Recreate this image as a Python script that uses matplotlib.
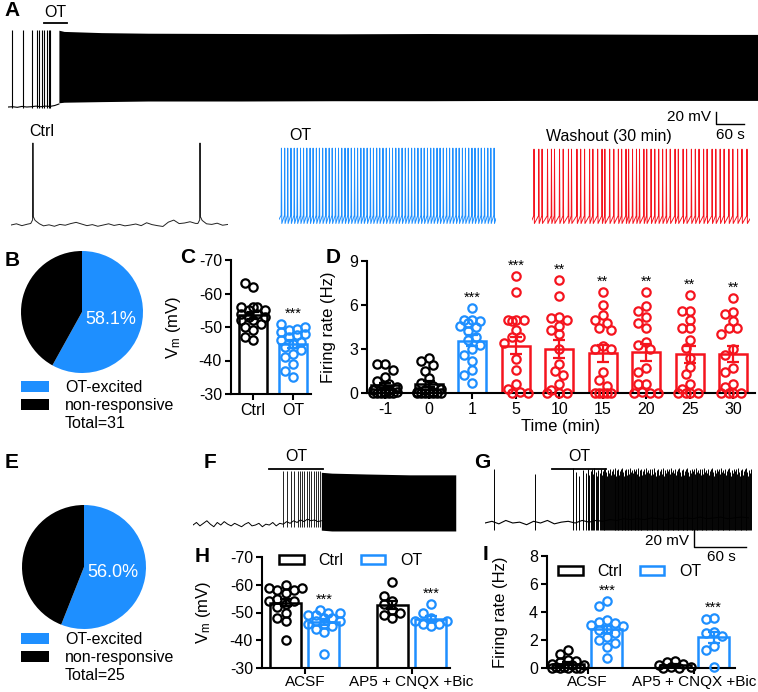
import numpy as np
import matplotlib.pyplot as plt
from matplotlib.patches import Patch

plt.rcParams['font.family'] = ['Liberation Sans', 'DejaVu Sans']
plt.rcParams['mathtext.fontset'] = 'custom'
plt.rcParams['mathtext.rm'] = 'Liberation Sans'
plt.rcParams['mathtext.it'] = 'Liberation Sans:italic'
plt.rcParams['axes.unicode_minus'] = False
plt.rcParams['axes.facecolor'] = 'none'

BLUE = '#1e8fff'
RED = '#f5141e'

# ---------------- data ----------------
# A: whole recording (time in s, Vm in mV)
a_pre_t = [0, 10, 20, 30, 40, 50, 60, 70, 80, 90, 100, 109]
a_pre_v = [-60, -59.5, -60.5, -59, -60, -59.5, -58.5, -59.5, -58.5, -59, -57.5, -55]
a_pre_spikes = [8.6, 32, 51, 62, 66, 73, 77, 84, 88, 90]
a_spike_peak = 68
a_block_t = [109, 120, 200, 300, 500, 700, 900, 1100, 1300, 1500, 1606]
a_block_top = [68, 66, 64, 63, 62.5, 62, 62.5, 62, 61.5, 61, 61]
a_block_bot = [-53, -52, -51, -50, -50, -49.5, -49.5, -49, -49, -49, -49]
a_ot = [77, 126]

# A, expanded 10 s segments
ctrl_v = [-60.0, -58.8, -60.6, -59.2, -58.0, -59.2, -60.8, -59.8, -61.2, -59.4, -60.2,
          -58.6, -57.4, -59.0, -60.6, -59.6, -61.2, -60.0, -58.8, -60.4, -59.4, -60.8,
          -60.0, -59.0, -60.6, -57.8, -59.6, -60.6, -61.4, -57.2, -55.2, -58.6, -58.0,
          -56.8, -58.4, -56.0, -57.2, -59.4, -58.2, -60.2, -59.4]
ctrl_spikes = [1.01, 8.71]
ot_spikes = [0.10, 0.25, 0.39, 0.54, 0.69, 0.83, 0.98, 1.12, 1.27, 1.42, 1.56, 1.71,
             1.85, 2.00, 2.15, 2.30, 2.44, 2.59, 2.73, 2.88, 3.03, 3.17, 3.32, 3.47,
             3.61, 3.76, 3.90, 4.05, 4.20, 4.34, 4.49, 4.63, 4.78, 4.93, 5.08, 5.22,
             5.37, 5.51, 5.66, 5.81, 5.95, 6.10, 6.24, 6.39, 6.54, 6.68, 6.83, 6.98,
             7.12, 7.27, 7.41, 7.56, 7.71, 7.85, 8.00, 8.15, 8.29, 8.44, 8.58, 8.73,
             8.88, 9.02, 9.17, 9.31, 9.46, 9.61, 9.75, 9.90]
wash_spikes = [0.08, 0.30, 0.45, 0.70, 0.88, 1.02, 1.25, 1.42, 1.66, 1.80, 2.05, 2.22,
               2.40, 2.63, 2.78, 3.00, 3.20, 3.33, 3.55, 3.74, 3.95, 4.10, 4.30, 4.42,
               4.60, 4.78, 4.92, 5.12, 5.25, 5.45, 5.62, 5.80, 5.98, 6.15, 6.33, 6.55,
               6.70, 6.92, 7.08, 7.30, 7.48, 7.65, 7.86, 8.02, 8.25, 8.42, 8.62, 8.80,
               9.02, 9.20, 9.42, 9.62, 9.85]

# B / E: cell counts (OT-excited, non-responsive)
b_counts = [18, 13]
e_counts = [14, 11]
pie_labels = ['OT-excited', 'non-responsive']

# C: Vm (mV)
c_ctrl = [-63, -62, -56, -56, -56, -55, -55, -54, -54, -53, -53, -52, -52, -51, -50, -49, -47, -46]
c_ot = [-51, -50, -49.5, -49, -48.5, -48, -47.5, -47, -46, -45.5, -45, -44, -43, -42, -41, -39, -37, -35]

# D: firing rate (Hz) over time
d_labels = ['-1', '0', '1', '5', '10', '15', '20', '25', '30']
d_m1 = [2.0, 2.0, 1.6, 1.1, 0.8, 0.6, 0.4, 0.3, 0.2, 0.2, 0.1, 0.1, 0, 0, 0, 0, 0, 0]
d_0 = [2.4, 2.2, 1.9, 1.5, 1.0, 0.7, 0.5, 0.3, 0.2, 0.1, 0.1, 0, 0, 0, 0, 0, 0, 0]
d_1 = [5.8, 5.0, 5.0, 4.9, 4.8, 4.6, 4.5, 4.2, 3.8, 3.6, 3.3, 3.0, 2.6, 2.2, 1.6, 1.2, 0.7]
d_5 = [8.0, 6.9, 5.0, 5.0, 5.0, 4.9, 4.3, 3.8, 3.8, 3.4, 2.3, 1.6, 0.6, 0.3, 0.1, 0, 0]
d_10 = [7.7, 6.6, 5.2, 5.1, 5.0, 4.6, 4.3, 4.0, 3.0, 2.0, 1.5, 1.2, 0.6, 0.2, 0, 0, 0]
d_15 = [6.9, 6.0, 5.3, 5.0, 4.8, 4.4, 4.3, 3.2, 3.0, 3.0, 1.4, 0.9, 0.5, 0, 0, 0, 0, 0]
d_20 = [6.9, 5.9, 5.6, 5.2, 4.8, 4.4, 3.5, 3.3, 3.0, 1.7, 1.4, 0.6, 0.6, 0.1, 0, 0, 0]
d_25 = [6.7, 5.6, 5.6, 5.0, 4.4, 4.4, 3.6, 3.1, 2.4, 1.8, 1.3, 0.6, 0.3, 0, 0, 0, 0]
d_30 = [6.5, 5.5, 5.4, 4.9, 4.4, 4.4, 4.0, 3.0, 2.6, 1.7, 1.4, 0.6, 0.4, 0, 0, 0, 0]
d_stars = ['', '', '***', '***', '**', '**', '**', '**', '**']

# F: trace (time s, Vm mV)
f_base_v = [-60, -57, -61, -58, -55, -59, -62, -57, -60, -56, -59, -61, -58, -60, -62, -59,
            -57, -61, -60, -58, -62, -59, -60, -57, -61, -58, -59, -56, -58, -55, -57, -54,
            -56, -53, -55, -54, -56, -55]
f_spikes = [104, 108, 113, 117, 121, 123, 126, 128, 131, 134, 136, 139, 142, 144, 146]
f_block_t = [148, 160, 200, 250, 303]
f_block_top = [2, 1, 0, -1, -1]
f_block_bot = [-66, -67, -67, -67, -67]
f_ot = [88, 150]

# G: trace
g_base_v = [-60, -58, -61, -57, -60, -59, -62, -58, -60, -57, -61, -59, -58, -60, -57, -59,
            -57, -58, -56, -57, -55, -56, -55, -56, -54, -55, -56, -54, -55, -54, -55, -53,
            -55, -54, -53, -55, -54, -53, -54]
g_early_spikes = [10, 58]
g_bin_edges = [100, 118, 133, 150, 180, 215, 255, 308]
g_bin_counts = [5, 10, 16, 34, 36, 42, 54]
g_peaks = [3, -2, 5, 0, -5, 2, -1, 4, -3, 1]
g_ot = [77, 140]

# H: Vm (mV), I: firing rate (Hz)
hi_groups = ['ACSF', 'AP5 + CNQX +Bic']
h_ctrl = [[-60, -59, -59, -58, -58, -57, -55, -54, -54, -53, -52, -50, -48, -47, -40],
          [-61, -56, -54, -53, -51, -50, -49, -48]]
h_ot = [[-51, -50, -50, -49, -49, -48, -48, -47, -47, -46, -46, -45, -44, -43, -35],
        [-53, -50, -48, -47, -47, -46, -46, -45]]
i_ctrl = [[1.3, 1.0, 0.6, 0.5, 0.4, 0.3, 0.2, 0.2, 0.1, 0.1, 0, 0, 0, 0, 0],
          [0.5, 0.4, 0.3, 0.2, 0.1, 0.1, 0, 0]]
i_ot = [[4.8, 4.4, 3.4, 3.3, 3.2, 3.1, 3.0, 2.8, 2.7, 2.5, 2.2, 2.0, 1.8, 1.5, 0.7],
        [3.6, 3.5, 2.6, 2.5, 2.3, 1.6, 1.3, 0.1]]

# ---------------- figure ----------------
W, H = 758, 692
fig = plt.figure(figsize=(W / 100, H / 100), dpi=100)


def px_axes(x0, y0, x1, y1):
    return fig.add_axes([x0 / W, 1 - y1 / H, (x1 - x0) / W, (y1 - y0) / H])


def px_text(x, y, s, **kw):
    fig.text(x / W, 1 - y / H, s, **kw)


def letter(x, y, s):
    px_text(x, y, s, fontsize=15, fontweight='bold', ha='center', va='center')


def style(ax):
    ax.spines[['top', 'right']].set_visible(False)
    ax.spines[['left', 'bottom']].set_linewidth(1.5)
    ax.tick_params(width=1.5, length=4.5, labelsize=11.5, pad=2)


def swarm_x(vals, x0, xpx, ypx, d=8.0, half=15):
    vals = np.asarray(vals, float)
    cands = [0.0]
    k = 1
    while k * d / 2 <= half:
        cands += [-k * d / 2, k * d / 2]
        k += 1
    placed = []
    xs = np.empty(len(vals))
    for i in np.argsort(-vals, kind='stable'):
        yp = vals[i] * ypx
        best, best_gap = 0.0, -1.0
        for c in cands:
            gap = min([np.hypot(c - p, yp - q) for p, q in placed], default=1e9)
            if gap >= d:
                best = c
                break
            if gap > best_gap:
                best, best_gap = c, gap
        placed.append((best, yp))
        xs[i] = x0 + best / xpx
    return xs


def bar_dots(ax, x, vals, col, width, base, xpx, ypx, half):
    vals = np.asarray(vals, float)
    m = vals.mean()
    se = vals.std(ddof=1) / np.sqrt(len(vals))
    ax.bar(x, m - base, width, bottom=base, facecolor='white', edgecolor=col,
           linewidth=1.8, zorder=2)
    ax.plot(swarm_x(vals, x, xpx, ypx, half=half), vals, 'o', ms=6, mfc='none',
            mec=col, mew=1.6, zorder=3, clip_on=False)
    ax.errorbar(x, m, yerr=se, color=col, capsize=4.5, elinewidth=1.6,
                capthick=1.6, zorder=4)


def stars(ax, x, vals, s, inverted=False):
    top = min(vals) if inverted else max(vals)
    ax.annotate(s, (x, top), xytext=(0, 4.5), textcoords='offset points',
                ha='center', va='baseline', fontsize=10.5)


def ot_bar(ax, span, ybar, ytxt):
    tr = ax.get_xaxis_transform()
    ax.plot(span, [ybar, ybar], color='k', lw=1.3, transform=tr, clip_on=False)
    ax.text(np.mean(span), ytxt, 'OT', ha='center', va='center', fontsize=11.5,
            transform=tr)


# ---- A ----
letter(12, 11, 'A')
ax = px_axes(8, 25, 758, 112)
ax.axis('off')
ax.set_xlim(0, 1606)
ax.set_ylim(-68.3, 76.7)
ax.plot(a_pre_t, a_pre_v, color='k', lw=0.8)
ax.vlines(a_pre_spikes, -61, a_spike_peak, color='k', lw=0.8)
ax.fill_between(a_block_t, a_block_bot, a_block_top, color='k', lw=0)
ot_bar(ax, a_ot, 1.023, 1.14)
sb_t, sb_v = 1516, -68.3
ax.plot([sb_t, sb_t, sb_t + 60], [sb_v, sb_v - 20, sb_v - 20], color='k', lw=1,
        clip_on=False)
ax.text(sb_t - 11, sb_v - 8.4, '20 mV', ha='right', va='center', fontsize=11)
ax.text(sb_t + 30, sb_v - 38.4, '60 s', ha='center', va='center', fontsize=11)


def seg_axes(x0, x1):
    a = px_axes(x0, 138, x1, 232)
    a.axis('off')
    a.set_xlim(0, 10)
    a.set_ylim(-66.8, 24.9)
    return a


# ctrl segment
ax = seg_axes(11, 228)
ct = list(np.arange(len(ctrl_v)) * 0.25)
shape = [(-0.1, -58.5), (-0.015, -55), (0, 20), (0.02, -52), (0.1, -55.5), (0.3, -58.8)]
pts = [(t, v) for t, v in zip(ct, ctrl_v)
       if not any(s - 0.1 <= t <= s + 0.3 for s in ctrl_spikes)]
for s in ctrl_spikes:
    pts += [(s + dt, v) for dt, v in shape]
pts.sort()
ax.plot([p[0] for p in pts], [p[1] for p in pts], color='#222222', lw=0.7)
px_text(29, 131, 'Ctrl', fontsize=11.5, ha='left', va='center')


def train(times, thr, peak, trough):
    t, v = [0.0], [thr - 4]
    for s in times:
        t += [s, s + 0.012, s + 0.03]
        v += [thr, peak, trough]
    t.append(10)
    v.append(thr - 3)
    return t, v


ax = seg_axes(279, 496)
ax.plot(*train(ot_spikes, -50.5, 15, -58.5), color=BLUE, lw=0.7)
px_text(289, 136, 'OT', fontsize=11.5, ha='left', va='center')

ax = seg_axes(532, 750)
ax.plot(*train(wash_spikes, -51, 14, -58.5), color=RED, lw=0.7)
px_text(546, 136, 'Washout (30 min)', fontsize=11.5, ha='left', va='center')


# ---- B / E pies ----
def pie(cx, cy, r, counts, leg_y, total):
    a = px_axes(cx - r, cy - r, cx + r, cy + r)
    a.pie(counts, colors=[BLUE, 'black'], startangle=90, counterclock=False,
          autopct=lambda p: '%.1f%%' % p if p > 50 else '', pctdistance=0.48,
          textprops=dict(color='white', fontsize=13), wedgeprops=dict(linewidth=0))
    a.set_xlim(-1, 1)
    a.set_ylim(-1, 1)
    handles = [Patch(facecolor=BLUE), Patch(facecolor='black'), Patch(facecolor='none')]
    fig.legend(handles, pie_labels + ['Total=%d' % total], loc='upper left',
               bbox_to_anchor=(21 / W, 1 - leg_y / H), frameon=False, fontsize=11.5,
               handlelength=1.75, handleheight=0.7, handletextpad=1.0,
               labelspacing=0.2, borderpad=0, borderaxespad=0)


letter(12, 260, 'B')
pie(82, 312, 61, b_counts, 380, sum(b_counts))
letter(12, 462, 'E')
pie(84, 567, 62, e_counts, 632, sum(e_counts))

# ---- C ----
letter(188, 258, 'C')
ax = px_axes(231, 260, 311, 394)
style(ax)
ax.set_xlim(-0.55, 1.45)
ax.set_ylim(-30, -70)
ax.set_yticks([-70, -60, -50, -40, -30])
ax.set_xticks([0, 1], ['Ctrl', 'OT'])
for x, vals, col in [(0, c_ctrl, 'k'), (1, c_ot, BLUE)]:
    bar_dots(ax, x, vals, col, 0.72, -30, 40, 134 / 40, 14)
stars(ax, 1, c_ot, '***', inverted=True)
ax.set_ylabel('V$_{\\rm m}$ (mV)', fontsize=12)
ax.yaxis.set_label_coords(-0.6, 0.5)

# ---- D ----
letter(333, 258, 'D')
ax = px_axes(367, 261, 755, 393)
style(ax)
ax.set_xlim(-0.42, 8.5)
ax.set_ylim(0, 9)
ax.set_yticks([0, 3, 6, 9])
ax.set_xticks(range(len(d_labels)), d_labels)
d_groups = [d_m1, d_0, d_1, d_5, d_10, d_15, d_20, d_25, d_30]
d_cols = ['k', 'k', BLUE] + [RED] * 6
for i, (vals, col, s) in enumerate(zip(d_groups, d_cols, d_stars)):
    bar_dots(ax, i, vals, col, 0.65, 0, 43.5, 132 / 9, 15)
    if s:
        stars(ax, i, vals, s)
ax.set_ylabel('Firing rate (Hz)', fontsize=12)
ax.yaxis.set_label_coords(-0.08, 0.5)
ax.set_xlabel('Time (min)', fontsize=12)
ax.xaxis.set_label_coords(0.5, -0.2)

# ---- F ----
letter(210, 462, 'F')
ax = px_axes(193, 462, 456, 536)
ax.axis('off')
ax.set_xlim(0, 303.3)
ax.set_ylim(-72.9, 14.1)
ax.plot(np.arange(len(f_base_v)) * 4, f_base_v, color='k', lw=0.7)
ax.vlines(f_spikes, -62, 4, color='k', lw=0.6)
ax.fill_between(f_block_t, f_block_bot, f_block_top, color='k', lw=0)
ot_bar(ax, f_ot, 0.905, 1.07)

# ---- G ----
letter(482, 462, 'G')
ax = px_axes(485, 462, 752, 536)
ax.axis('off')
ax.set_xlim(0, 308)
ax.set_ylim(-75.3, 11.8)
ax.plot(np.arange(len(g_base_v)) * 8, g_base_v, color='k', lw=0.8)
g_t = list(g_early_spikes)
for lo, hi, n in zip(g_bin_edges[:-1], g_bin_edges[1:], g_bin_counts):
    g_t += list(lo + (np.arange(n) + 0.5) * (hi - lo) / n)
g_top = [g_peaks[i % len(g_peaks)] for i in range(len(g_t))]
ax.vlines(g_t, -68, g_top, color='k', lw=0.7)
ot_bar(ax, g_ot, 0.905, 1.07)
sb_t, sb_v = 241, -68.2
ax.plot([sb_t, sb_t, sb_t + 60], [sb_v, sb_v - 20, sb_v - 20], color='k', lw=1,
        clip_on=False)
ax.text(235, -81.2, '20 mV', ha='right', va='center', fontsize=11)
ax.text(273, -100, '60 s', ha='center', va='center', fontsize=11)


# ---- H / I ----
def grouped(ax, ctrl, ot, base, ypx, inverted=False):
    for g in range(len(hi_groups)):
        bar_dots(ax, g - 0.18, ctrl[g], 'k', 0.29, base, 106.8, ypx, 16)
        bar_dots(ax, g + 0.18, ot[g], BLUE, 0.29, base, 106.8, ypx, 16)
        stars(ax, g + 0.18, ot[g], '***', inverted=inverted)
    ax.set_xticks(range(len(hi_groups)), hi_groups)
    ax.tick_params(axis='x', length=4, pad=1, labelsize=11)


def hi_legend(x, y):
    handles = [Patch(facecolor='white', edgecolor='k', linewidth=1.8),
               Patch(facecolor='white', edgecolor=BLUE, linewidth=1.8)]
    fig.legend(handles, ['Ctrl', 'OT'], loc='upper left', ncol=2,
               bbox_to_anchor=(x / W, 1 - y / H), frameon=False, fontsize=11.5,
               handlelength=1.55, handleheight=0.55, handletextpad=0.9,
               columnspacing=1.1, borderpad=0, borderaxespad=0)


letter(202, 557, 'H')
ax = px_axes(262, 557, 450, 668)
style(ax)
ax.set_xlim(-0.40, 1.36)
ax.set_ylim(-30, -70)
ax.set_yticks([-70, -60, -50, -40, -30])
grouped(ax, h_ctrl, h_ot, -30, 111 / 40, inverted=True)
ax.set_ylabel('V$_{\\rm m}$ (mV)', fontsize=12)
ax.yaxis.set_label_coords(-0.26, 0.5)
hi_legend(279, 553)

letter(485, 555, 'I')
ax = px_axes(547, 556, 735, 668)
style(ax)
ax.set_xlim(-0.38, 1.38)
ax.set_ylim(0, 8)
ax.set_yticks([0, 2, 4, 6, 8])
grouped(ax, i_ctrl, i_ot, 0, 112 / 8)
ax.set_ylabel('Firing rate (Hz)', fontsize=12)
ax.yaxis.set_label_coords(-0.21, 0.5)
hi_legend(558, 564)

fig.savefig('out.png', dpi=100, facecolor='white')
